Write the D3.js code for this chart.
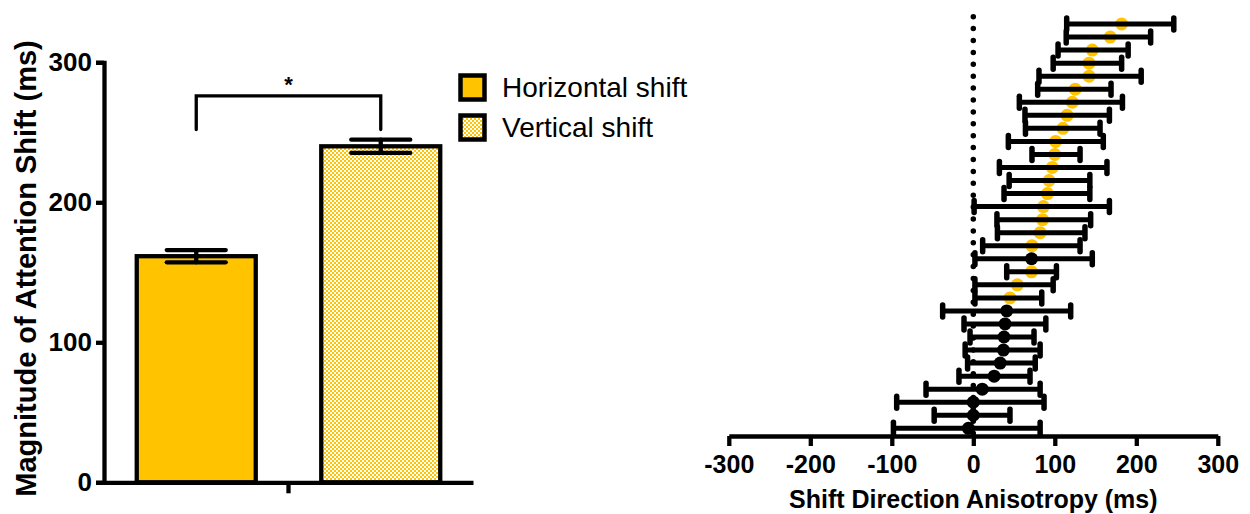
<!DOCTYPE html>
<html><head><meta charset="utf-8">
<script src="https://cdn.jsdelivr.net/npm/d3@7"></script>
<style>
html,body{margin:0;padding:0;background:#fff;}
svg{display:block;font-family:"Liberation Sans",Arial,Helvetica,sans-serif;}
</style></head>
<body><svg id="c" width="1250" height="514"></svg>
<script>
// ---- Left panel data ----
const barCategories = ["Horizontal shift", "Vertical shift"];
const barMeans = [161.5, 240];
const barSems = [4.4, 4.7];
const yTicksLeft = [0, 100, 200, 300];
const yTitleLeft = "Magnitude of Attention Shift (ms)";
const sigLabel = "*";
const sigLevel = 276;
const sigLegEnd = 252;

// ---- Right panel data (one row per participant, top to bottom) ----
const rowMeans = [182, 168, 146, 142, 142, 125, 121.5, 115, 110, 101, 100, 97, 93, 91, 86, 85, 82, 72, 71.5, 71.5, 54, 45, 41, 39, 37.7, 37, 33, 25.6, 11, 0, 0, -6];
const rowLow   = [114.6, 114, 104, 98, 80.6, 79, 56.5, 63.4, 64, 43, 72, 32, 44, 37.7, 1, 29, 29.6, 11.5, 2, 41, 2, 2, -37.6, -11.4, -4, -10, -7, -17.6, -58, -94, -48, -98];
const rowHigh  = [246, 217.6, 190, 182, 206, 169, 183, 167, 155.5, 159.5, 131, 164, 143, 143, 167, 144, 137, 131, 146, 102, 98, 84, 119.5, 89, 74.5, 82, 76, 69.6, 82, 86.8, 45, 82];
const rowSignificant = [1,1,1,1,1,1,1,1,1,1,1,1,1,1,1,1,1,1,0,1,1,1,0,0,0,0,0,0,0,0,0,0];
const xTicksRight = [-300, -200, -100, 0, 100, 200, 300];
const xTitleRight = "Shift Direction Anisotropy (ms)";

const YELLOW = "#FFC300";
const svg = d3.select("#c");

// pattern for vertical shift
const defs = svg.append("defs");
const pat = defs.append("pattern").attr("id","checker").attr("patternUnits","userSpaceOnUse")
  .attr("width",4).attr("height",4);
pat.append("rect").attr("width",4).attr("height",4).attr("fill","#fff");
pat.append("rect").attr("x",0).attr("y",0).attr("width",2).attr("height",2).attr("fill",YELLOW);
pat.append("rect").attr("x",2).attr("y",2).attr("width",2).attr("height",2).attr("fill",YELLOW);
const fills = [YELLOW, "url(#checker)"];

// ================= LEFT PANEL =================
const L = {x0:104, x1:473, y0:482.3, y1:62.3};
const yL = d3.scaleLinear().domain([0,300]).range([L.y0, L.y1]);
const xL = d3.scaleBand().domain(barCategories).range([L.x0, L.x1]).paddingInner(0.355).paddingOuter(0.1775);
const gL = svg.append("g");

// bars
gL.selectAll("rect.bar").data(barCategories).join("rect").attr("class","bar")
  .attr("x", d => xL(d)).attr("width", xL.bandwidth())
  .attr("y", (d,i) => yL(barMeans[i])).attr("height", (d,i) => yL(0) - yL(barMeans[i]))
  .attr("fill", (d,i) => fills[i]).attr("stroke","#000").attr("stroke-width",4.3);

// error bars
const capW = 59;
const eb = gL.selectAll("g.eb").data(barCategories).join("g").attr("class","eb")
  .attr("stroke","#000").attr("stroke-width",4.3).attr("stroke-linecap","round");
eb.append("line").attr("x1", d => xL(d)+xL.bandwidth()/2).attr("x2", d => xL(d)+xL.bandwidth()/2)
  .attr("y1",(d,i)=>yL(barMeans[i]+barSems[i])).attr("y2",(d,i)=>yL(barMeans[i]-barSems[i]));
eb.append("line").attr("x1", d => xL(d)+xL.bandwidth()/2-capW/2).attr("x2", d => xL(d)+xL.bandwidth()/2+capW/2)
  .attr("y1",(d,i)=>yL(barMeans[i]+barSems[i])).attr("y2",(d,i)=>yL(barMeans[i]+barSems[i]));
eb.append("line").attr("x1", d => xL(d)+xL.bandwidth()/2-capW/2).attr("x2", d => xL(d)+xL.bandwidth()/2+capW/2)
  .attr("y1",(d,i)=>yL(barMeans[i]-barSems[i])).attr("y2",(d,i)=>yL(barMeans[i]-barSems[i]));

// y axis
const yAxisL = gL.append("g").attr("transform",`translate(${L.x0},0)`)
  .call(d3.axisLeft(yL).tickValues(yTicksLeft).tickFormat(d => String(d)).tickSize(8).tickSizeOuter(8).tickPadding(4));
yAxisL.selectAll("path,line").attr("stroke","#000").attr("stroke-width",4.3);
yAxisL.selectAll("text").attr("font-size",26).attr("font-weight","bold").attr("fill","#000")
  .attr("font-family","'Liberation Sans',Arial,sans-serif");

// x axis (single group tick)
const xGroup = d3.scaleBand().domain(["group"]).range([L.x0, L.x1]);
const xAxisL = gL.append("g").attr("transform",`translate(0,${L.y0})`)
  .call(d3.axisBottom(xGroup).tickSize(11).tickSizeOuter(0).tickFormat(""));
xAxisL.selectAll("path,line").attr("stroke","#000").attr("stroke-width",4.3);

// y title
gL.append("text").attr("transform",`translate(36,${(40+497)/2}) rotate(-90)`)
  .attr("text-anchor","middle").attr("font-size",29).attr("font-weight","bold").attr("fill","#000")
  .text(yTitleLeft);

// significance bracket
const c1 = xL(barCategories[0]) + xL.bandwidth()/2, c2 = xL(barCategories[1]) + xL.bandwidth()/2;
gL.append("path").attr("d",`M${c1},${yL(sigLegEnd)}V${yL(sigLevel)}H${c2}V${yL(sigLegEnd)}`)
  .attr("fill","none").attr("stroke","#000").attr("stroke-width",3.3).attr("stroke-linecap","round");
gL.append("text").attr("x",(c1+c2)/2).attr("y",yL(sigLevel)-4).attr("text-anchor","middle")
  .attr("font-size",22).attr("font-weight","bold").text(sigLabel);

// legend
const lg = svg.append("g");
barCategories.forEach((name,i) => {
  const y = 75.5 + i*40;
  lg.append("rect").attr("x",460.5).attr("y",y).attr("width",24).attr("height",24)
    .attr("fill",fills[i]).attr("stroke","#000").attr("stroke-width",4.5);
  lg.append("text").attr("x",502).attr("y",y+21.2).attr("font-size",28).attr("fill","#000").text(name);
});

// ================= RIGHT PANEL =================
const xR = d3.scaleLinear().domain([-300,300]).range([728.8, 1217.8]);
const yR = d3.scalePoint().domain(d3.range(rowMeans.length)).range([24, 428.3]);
const axisY = 436;
const gR = svg.append("g");

// dotted zero line
gR.append("line").attr("x1",xR(0)).attr("x2",xR(0)).attr("y1",16.7).attr("y2",axisY)
  .attr("stroke","#000").attr("stroke-width",5.5).attr("stroke-linecap","round")
  .attr("stroke-dasharray","0 11.9");

// points
gR.selectAll("circle").data(rowMeans).join("circle")
  .attr("cx", d => xR(d)).attr("cy", (d,i) => yR(i)).attr("r",6.5)
  .attr("fill", (d,i) => rowSignificant[i] ? YELLOW : "#000");

// error bars
const rows = gR.selectAll("g.row").data(rowMeans).join("g").attr("class","row")
  .attr("stroke","#000");
rows.append("line").attr("x1",(d,i)=>xR(rowLow[i])).attr("x2",(d,i)=>xR(rowHigh[i]))
  .attr("y1",(d,i)=>yR(i)).attr("y2",(d,i)=>yR(i)).attr("stroke-width",5);
rows.append("line").attr("x1",(d,i)=>xR(rowLow[i])).attr("x2",(d,i)=>xR(rowLow[i]))
  .attr("y1",(d,i)=>yR(i)-6).attr("y2",(d,i)=>yR(i)+6).attr("stroke-width",5.5).attr("stroke-linecap","round");
rows.append("line").attr("x1",(d,i)=>xR(rowHigh[i])).attr("x2",(d,i)=>xR(rowHigh[i]))
  .attr("y1",(d,i)=>yR(i)-6).attr("y2",(d,i)=>yR(i)+6).attr("stroke-width",5.5).attr("stroke-linecap","round");

// x axis
const xAxisR = gR.append("g").attr("transform",`translate(0,${axisY})`)
  .call(d3.axisBottom(xR).tickValues(xTicksRight).tickFormat(d => String(d)).tickSize(10).tickSizeOuter(0).tickPadding(9));
xAxisR.selectAll("path,line").attr("stroke","#000").attr("stroke-width",4.3);
xAxisR.selectAll("text").attr("font-size",25).attr("font-weight","bold").attr("fill","#000")
  .attr("font-family","'Liberation Sans',Arial,sans-serif");

gR.append("text").attr("x",xR(0)).attr("y",508).attr("text-anchor","middle")
  .attr("font-size",25).attr("font-weight","bold").attr("fill","#000").text(xTitleRight);
</script></body></html>
